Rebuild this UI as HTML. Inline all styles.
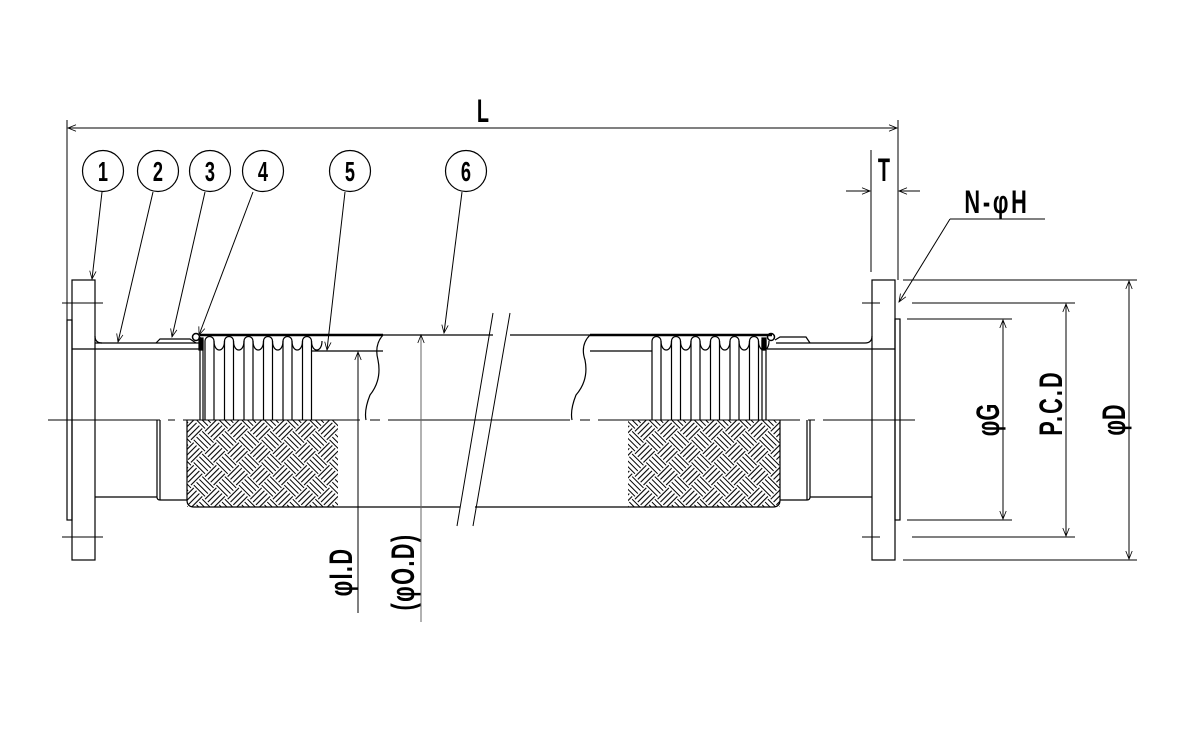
<!DOCTYPE html>
<html><head><meta charset="utf-8"><style>
html,body{margin:0;padding:0;background:#fff;}
svg{display:block;}
text{font-family:"Liberation Sans",sans-serif;fill:#000;}
</style></head><body>
<svg width="1200" height="750" viewBox="0 0 1200 750" xmlns="http://www.w3.org/2000/svg">
<defs>
<pattern id="bw" patternUnits="userSpaceOnUse" width="32" height="32" patternTransform="rotate(45)">
<g stroke="#000" stroke-width="1.1">
<path d="M0,2H16M0,6H16M0,10H16M0,14H16M16,18H32M16,22H32M16,26H32M16,30H32"/>
<path d="M18,0V16M22,0V16M26,0V16M30,0V16M2,16V32M6,16V32M10,16V32M14,16V32"/>
</g>
</pattern>
<g id="fold" fill="none" stroke="#000" stroke-width="1.2">
<path d="M0,420V341A4.5,4.5 0 0 1 9,341V420"/>
<path d="M9,341C9,353 19.5,353 19.5,341"/>
</g>
<marker id="ar" viewBox="0 0 10 10" refX="10" refY="5" markerWidth="12" markerHeight="8" orient="auto-start-reverse" markerUnits="userSpaceOnUse">
<path d="M0,1L10,5L0,9" fill="none" stroke="#000" stroke-width="1"/>
</marker>
</defs>

<g stroke="#000" fill="none" stroke-width="1.2">
<line x1="67" y1="120" x2="67" y2="320" stroke-width="1"/>
<line x1="898" y1="120" x2="898" y2="280" stroke-width="1"/>
<line x1="68" y1="128" x2="897" y2="128" stroke-width="1" marker-start="url(#ar)" marker-end="url(#ar)"/>

<circle cx="103" cy="171" r="20.5"/>
<circle cx="158" cy="171" r="20.5"/>
<circle cx="210" cy="171" r="20.5"/>
<circle cx="263" cy="171" r="20.5"/>
<circle cx="350" cy="171" r="20.5"/>
<circle cx="466" cy="171" r="20.5"/>
<g stroke-width="1">
<line x1="102" y1="192" x2="92" y2="279" marker-end="url(#ar)"/>
<line x1="153" y1="192" x2="118" y2="342" marker-end="url(#ar)"/>
<line x1="205" y1="192" x2="172" y2="337" marker-end="url(#ar)"/>
<line x1="253" y1="192" x2="199" y2="335" marker-end="url(#ar)"/>
<line x1="345" y1="192" x2="327" y2="350" marker-end="url(#ar)"/>
<line x1="462" y1="192" x2="444" y2="333" marker-end="url(#ar)"/>
</g>

<path d="M48,420H160M168,420H175M183,420H360M370,420H380M388,420H570M580,420H590M598,420H800M808,420H815M823,420H915" stroke-width="1"/>
<path d="M62,303H103M62,537H103M862,303H880M862,537H880" stroke-width="1"/>

<rect x="72" y="280" width="23" height="280"/>
<rect x="67" y="320" width="5" height="200"/>
<path d="M72,349H200M95,343H200"/>
<path d="M95,336Q95,343 102,343" />
<path d="M95,497H157M157,420V497M160,420V500M157,497Q157,500 160,500H187"/>
<path d="M156,343L160,339H190L196,343" />
<circle cx="196" cy="337" r="3.5" stroke-width="1.5"/>
<path d="M200,337V420M203,340V420" />
<rect x="199" y="338" width="4" height="12" fill="#000"/>
<use href="#fold" x="205"/><use href="#fold" x="224.5"/><use href="#fold" x="244"/><use href="#fold" x="263.5"/><use href="#fold" x="283"/><use href="#fold" x="302.5"/>
<path d="M200,335H383" stroke-width="2.5"/>
<path d="M312,351H383"/>
<rect x="187" y="420" width="151" height="87" fill="url(#bw)" stroke="none"/>
<path d="M187,420V500Q187,507 194,507H460"/>
<path d="M383,335Q374,345 378,360Q382,380 370,395Q364,410 366,420" />
<path d="M383,335H493M510,335H590" />
<path d="M493,313L457,526M510,313L473,526" stroke-width="1"/>
<path d="M475,507H628"/>
<path d="M590,335Q580,345 585,360Q589,380 576,395Q570,410 572,420"/>
<path d="M590,351H652"/>
<path d="M590,335H772" stroke-width="2.5"/>
<use href="#fold" x="652"/><use href="#fold" x="671.5"/><use href="#fold" x="691"/><use href="#fold" x="710.5"/><use href="#fold" x="730"/><use href="#fold" x="749.5"/>
<path d="M762,340V420M766,340V420"/>
<rect x="762" y="338" width="4" height="12" fill="#000"/>
<circle cx="771" cy="337" r="3.5" stroke-width="1.5"/>
<path d="M775,340L780,337H806L810,343"/>
<path d="M767,349H895M776,343H865"/>
<path d="M865,343Q872,343 872,336"/>
<rect x="628" y="420" width="152" height="87" fill="url(#bw)" stroke="none"/>
<path d="M628,507H773Q780,507 780,500V420"/>
<path d="M780,500H807Q810,500 810,497V420M807,420V500M810,497H872"/>
<rect x="872" y="280" width="23" height="280"/>
<rect x="895" y="319" width="5" height="201"/>

<g stroke-width="1">
<line x1="871" y1="150" x2="871" y2="272"/>
<line x1="898" y1="150" x2="898" y2="272"/>
<line x1="846" y1="191" x2="870" y2="191" marker-end="url(#ar)"/>
<line x1="920" y1="191" x2="899" y2="191" marker-end="url(#ar)"/>
<line x1="950" y1="219" x2="1045" y2="219"/>
<line x1="950" y1="219" x2="899" y2="302" marker-end="url(#ar)"/>
<line x1="903" y1="280" x2="1137" y2="280"/>
<line x1="912" y1="303" x2="1075" y2="303"/>
<line x1="907" y1="319" x2="1012" y2="319"/>
<line x1="907" y1="520" x2="1012" y2="520"/>
<line x1="912" y1="537" x2="1075" y2="537"/>
<line x1="903" y1="560" x2="1137" y2="560"/>
<line x1="1003" y1="320" x2="1003" y2="519" marker-start="url(#ar)" marker-end="url(#ar)"/>
<line x1="1066" y1="304" x2="1066" y2="536" marker-start="url(#ar)" marker-end="url(#ar)"/>
<line x1="1129" y1="281" x2="1129" y2="559" marker-start="url(#ar)" marker-end="url(#ar)"/>
<line x1="358" y1="613" x2="358" y2="352" marker-end="url(#ar)"/>
<line x1="421" y1="622" x2="421" y2="335" marker-end="url(#ar)" stroke="#666"/>
</g>
</g>

<g font-size="32" font-weight="bold">
<text x="483" y="122" text-anchor="middle" transform="translate(483 0) scale(0.62 1) translate(-483 0)">L</text>
<text x="884" y="181" text-anchor="middle" transform="translate(884 0) scale(0.62 1) translate(-884 0)">T</text>
<text x="997" y="213" text-anchor="middle" letter-spacing="4" transform="translate(997 0) scale(0.68 1) translate(-997 0)">N-φH</text>
</g>
<g font-size="28" font-weight="bold" text-anchor="middle">
<text x="103" y="181" transform="translate(103 0) scale(0.65 1) translate(-103 0)">1</text>
<text x="158" y="181" transform="translate(158 0) scale(0.65 1) translate(-158 0)">2</text>
<text x="210" y="181" transform="translate(210 0) scale(0.65 1) translate(-210 0)">3</text>
<text x="263" y="181" transform="translate(263 0) scale(0.65 1) translate(-263 0)">4</text>
<text x="350" y="181" transform="translate(350 0) scale(0.65 1) translate(-350 0)">5</text>
<text x="466" y="181" transform="translate(466 0) scale(0.65 1) translate(-466 0)">6</text>
</g>
<g font-size="32" font-weight="bold" text-anchor="middle">
<text transform="translate(999 420) rotate(-90) scale(0.68 1)">φG</text>
<text transform="translate(1062 403) rotate(-90) scale(0.68 1)" letter-spacing="3">P.C.D</text>
<text transform="translate(1125 420) rotate(-90) scale(0.68 1)">φD</text>
<text transform="translate(352 572) rotate(-90) scale(0.68 1)" letter-spacing="2">φI.D</text>
<text transform="translate(414 572) rotate(-90) scale(0.68 1)" letter-spacing="2">(φO.D)</text>
</g>
</svg>
</body></html>
